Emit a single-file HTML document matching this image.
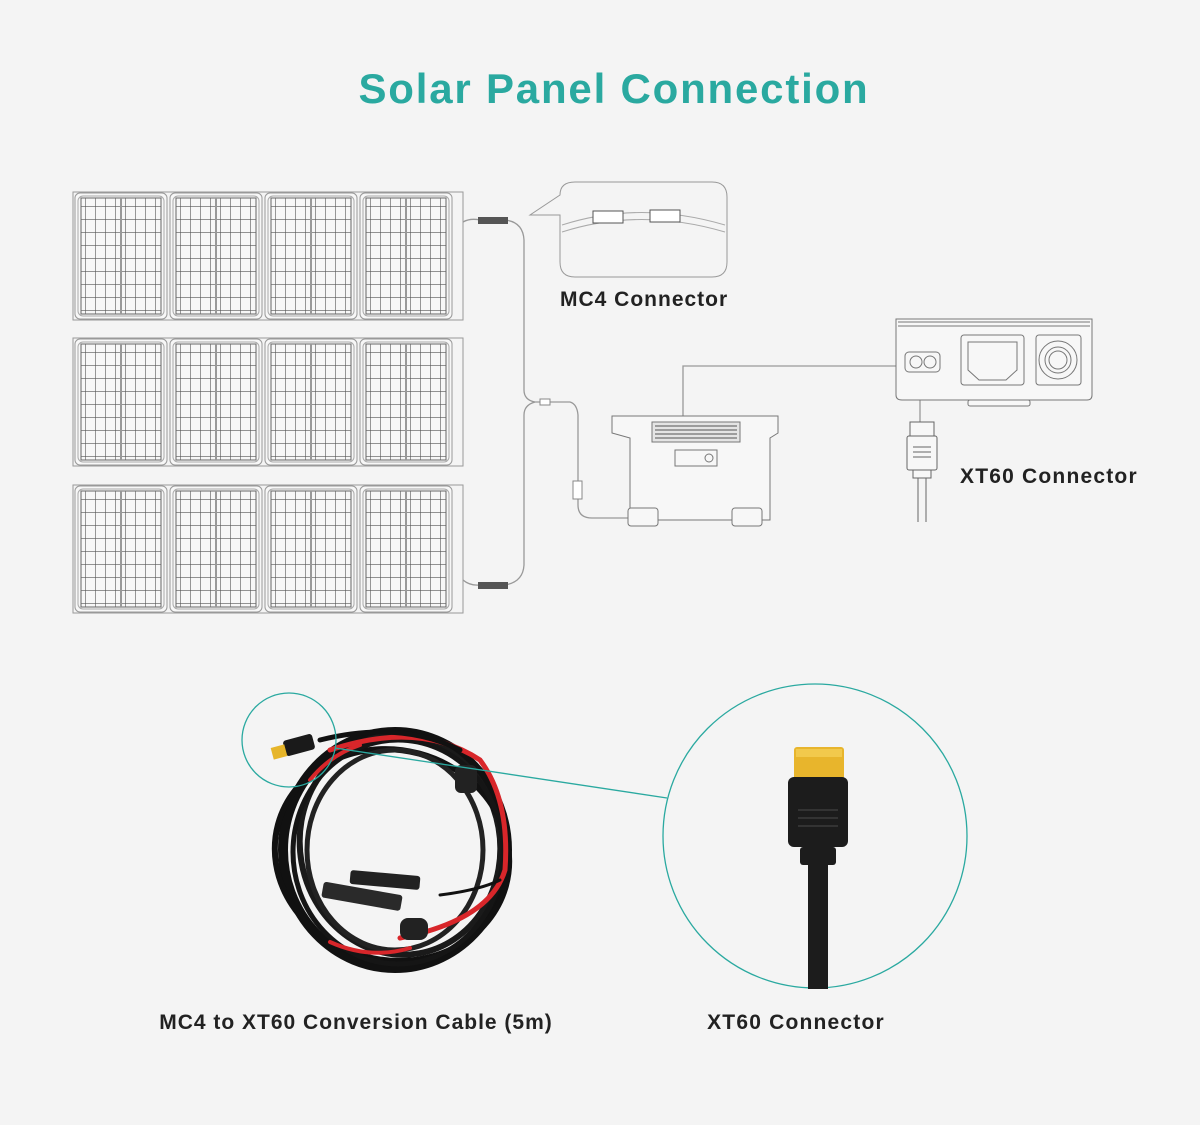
<!DOCTYPE html>
<html><head><meta charset="utf-8"><style>
body{margin:0;background:#f4f4f4;}
svg{display:block}
text{font-family:"Liberation Sans",sans-serif;font-weight:bold}
</style></head><body>
<svg width="1200" height="1125" viewBox="0 0 1200 1125" xmlns="http://www.w3.org/2000/svg">
<defs>
<pattern id="g" x="0" y="0" width="10" height="13" patternUnits="userSpaceOnUse">
<path d="M0 0H10M0 0V13" stroke="#555" stroke-width="1.2" fill="none"/>
</pattern>
<g id="sub">
<rect x="0" y="0" width="92" height="126" rx="5" fill="#f7f7f7" stroke="#999" stroke-width="1"/>
<rect x="3" y="3" width="86" height="120" rx="5" fill="none" stroke="#aaa"/>
<rect x="6" y="5" width="80" height="116" fill="url(#g)" stroke="#666"/>
<line x1="46" y1="5" x2="46" y2="121" stroke="#999" stroke-width="2"/>
</g>
<g id="row">
<rect x="0" y="0" width="390" height="128" fill="none" stroke="#999"/>
<use href="#sub" x="2" y="1"/><use href="#sub" x="97" y="1"/><use href="#sub" x="192" y="1"/><use href="#sub" x="287" y="1"/>
</g>
</defs>
<rect width="1200" height="1125" fill="#f4f4f4"/>
<text x="614" y="103" font-size="42" letter-spacing="1.8" fill="#2aa9a0" text-anchor="middle">Solar Panel Connection</text>

<use href="#row" x="73" y="192"/>
<use href="#row" x="73" y="338"/>
<use href="#row" x="73" y="485"/>

<g fill="none" stroke="#999" stroke-width="1.3">
<path d="M463 222 Q470 218 480 220 H505 Q523 222 524 240 V390 Q524 400 535 402 H560"/>
<path d="M463 580 Q470 586 480 585 H505 Q523 582 524 565 V415 Q524 405 535 402"/>
<path d="M560 402 H570 Q577 404 578 415 V505 Q578 518 592 518 H680 V460"/>
<path d="M683 440 V366 H897"/>
<path d="M920 380 V422"/>
</g>
<rect x="478" y="217" width="30" height="7" fill="#555"/>
<rect x="478" y="582" width="30" height="7" fill="#555"/>
<rect x="540" y="399" width="10" height="6" fill="#fff" stroke="#888"/>
<rect x="573" y="481" width="9" height="18" fill="#fff" stroke="#888"/>

<path d="M560 195 Q560 182 575 182 H712 Q727 182 727 197 V262 Q727 277 712 277 H575 Q560 277 560 262 V215 H530 Z" fill="#f4f4f4" stroke="#999"/>
<path d="M562 225 Q640 200 725 225 M562 232 Q640 207 725 232" fill="none" stroke="#aaa"/>
<rect x="593" y="211" width="30" height="12" fill="#fff" stroke="#555"/>
<rect x="650" y="210" width="30" height="12" fill="#fff" stroke="#555"/>
<text x="560" y="306" font-size="21" letter-spacing="1" fill="#222">MC4 Connector</text>

<g fill="#f7f7f7" stroke="#777">
<path d="M612 416 H778 V433 L770 438 V520 H630 V438 L612 433 Z"/>
<rect x="628" y="508" width="30" height="18" rx="3"/>
<rect x="732" y="508" width="30" height="18" rx="3"/>
<rect x="652" y="422" width="88" height="20" fill="#e4e4e4"/>
<rect x="675" y="450" width="42" height="16"/>
<circle cx="709" cy="458" r="4"/>
</g>
<g stroke="#555" stroke-width="1">
<path d="M655 426H737M655 430H737M655 434H737M655 438H737"/>
</g>

<g fill="#f7f7f7" stroke="#777">
<path d="M896 319 H1092 V395 Q1092 400 1087 400 H902 Q896 400 896 395 Z"/>
<path d="M898 322 H1090 M898 326 H1090"/>
<rect x="905" y="352" width="35" height="20" rx="4"/>
<circle cx="916" cy="362" r="6"/><circle cx="930" cy="362" r="6"/>
<rect x="961" y="335" width="63" height="50" rx="3"/>
<path d="M968 342 H1017 V370 L1006 380 H979 L968 370 Z"/>
<rect x="1036" y="335" width="45" height="50" rx="3"/>
<circle cx="1058" cy="360" r="19"/><circle cx="1058" cy="360" r="13"/><circle cx="1058" cy="360" r="9"/>
<rect x="968" y="400" width="62" height="6" rx="2"/>
</g>
<g fill="#f7f7f7" stroke="#666">
<rect x="910" y="422" width="24" height="14"/>
<rect x="907" y="436" width="30" height="34" rx="2"/>
<path d="M913 447H931M913 452H931M913 457H931"/>
<rect x="913" y="470" width="18" height="8"/>
<path d="M918 478 V522 M926 478 V522"/>
</g>
<text x="960" y="483" font-size="21" letter-spacing="1.2" fill="#222">XT60 Connector</text>

<g fill="none" stroke-linecap="round">
<ellipse cx="395" cy="850" rx="112" ry="118" stroke="#111" stroke-width="10"/>
<ellipse cx="400" cy="845" rx="100" ry="110" stroke="#1a1a1a" stroke-width="6" transform="rotate(-10 400 845)"/>
<ellipse cx="392" cy="855" rx="118" ry="105" stroke="#111" stroke-width="6" transform="rotate(15 392 855)"/>
<ellipse cx="395" cy="850" rx="88" ry="100" stroke="#222" stroke-width="5"/>
<ellipse cx="398" cy="852" rx="105" ry="112" stroke="#151515" stroke-width="5"/>
<path d="M330 750 Q420 720 480 760 Q510 800 505 870 Q490 920 400 938" stroke="#d8262a" stroke-width="5"/>
<path d="M310 780 Q330 755 360 745" stroke="#d8262a" stroke-width="4"/>
<path d="M330 942 Q370 960 410 948" stroke="#d8262a" stroke-width="4"/>
<path d="M320 740 Q400 720 460 750" stroke="#111" stroke-width="5"/>
<path d="M440 895 Q480 890 500 880" stroke="#111" stroke-width="3"/>
</g>
<rect x="350" y="873" width="70" height="14" rx="3" fill="#222" transform="rotate(5 385 880)"/>
<rect x="322" y="888" width="80" height="16" rx="3" fill="#2a2a2a" transform="rotate(10 360 896)"/>
<rect x="455" y="765" width="22" height="28" rx="6" fill="#222"/>
<rect x="400" y="918" width="28" height="22" rx="8" fill="#222"/>
<rect x="284" y="737" width="30" height="16" rx="3" fill="#1a1a1a" transform="rotate(-15 299 745)"/>
<rect x="272" y="746" width="14" height="12" fill="#e6b52a" transform="rotate(-15 279 752)"/>
<circle cx="289" cy="740" r="47" fill="none" stroke="#2aa9a0" stroke-width="1.3"/>
<line x1="335" y1="748" x2="667" y2="798" stroke="#2aa9a0" stroke-width="1.3"/>

<circle cx="815" cy="836" r="152" fill="#f4f4f4" stroke="#2aa9a0" stroke-width="1.3"/>
<rect x="794" y="747" width="50" height="36" rx="3" fill="#e8b52c"/>
<rect x="796" y="749" width="46" height="8" fill="#f2c94c"/>
<rect x="788" y="777" width="60" height="70" rx="6" fill="#1c1c1c"/>
<path d="M798 810H838M798 818H838M798 826H838" stroke="#333" stroke-width="2"/>
<rect x="800" y="847" width="36" height="18" rx="3" fill="#1c1c1c"/>
<rect x="808" y="865" width="20" height="124" fill="#1c1c1c"/>

<text x="356" y="1029" font-size="21" letter-spacing="1" fill="#222" text-anchor="middle">MC4 to XT60 Conversion Cable (5m)</text>
<text x="796" y="1029" font-size="21" letter-spacing="1.2" fill="#222" text-anchor="middle">XT60 Connector</text>
</svg>
</body></html>
